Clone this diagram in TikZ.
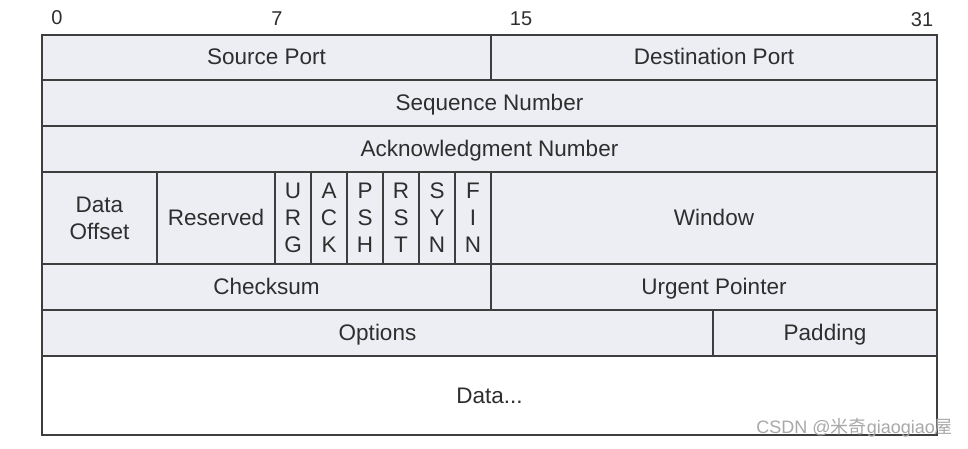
\documentclass[tikz,border=0pt]{standalone}
\usepackage{fontspec}
\setmainfont{Liberation Sans}
\newfontfamily\cjkfont{Noto Sans CJK SC}
\definecolor{cellfill}{HTML}{ECEEF4}
\definecolor{cellline}{HTML}{3E3E3E}
\definecolor{celltext}{HTML}{2E2E2E}
\definecolor{wmark}{HTML}{A8A8A8}
\newcommand{\tcpcell}[7][cellfill]{%
  \pgfmathsetmacro{\cw}{#5-#3}\pgfmathsetmacro{\ch}{#6-#4}%
  \node[cellbox, oneline, fill=#1, anchor=north west, minimum width=\cw pt, minimum height=\ch pt] (#2) at (#3,#4) {#7};}
\newcommand{\tcpmulti}[6]{%
  \pgfmathsetmacro{\cw}{#4-#2}\pgfmathsetmacro{\ch}{#5-#3}%
  \node[cellbox, fill=cellfill, anchor=north west, minimum width=\cw pt, minimum height=\ch pt] (#1) at (#2,#3) {#6};}
\begin{document}
\begin{tikzpicture}[x=1pt,y=-1pt,
  cellbox/.style={draw=cellline, line width=1.6pt, rectangle, inner sep=0pt, outer sep=0pt,
    text=celltext, font=\fontsize{22.5}{27}\selectfont, align=center},
  oneline/.style={text height=18pt, text depth=3pt},
  bitnum/.style={text=celltext, font=\fontsize{20}{22}\selectfont, inner sep=0pt}]
\useasboundingbox (0,0) rectangle (968,449);
% bit numbers
\node[bitnum] (b0) at (57,18) {0};
\node[bitnum] (b7) at (277,19) {7};
\node[bitnum] (b15) at (521,19) {15};
\node[bitnum] (b31) at (922,20) {31};
% row 1
\tcpcell{src}{42}{35}{491}{80}{Source Port}
\tcpcell{dst}{491}{35}{937}{80}{Destination Port}
% row 2
\tcpcell{seq}{42}{80}{937}{126}{Sequence Number}
% row 3
\tcpcell{ack}{42}{126}{937}{172}{Acknowledgment Number}
% row 4
\tcpmulti{doff}{42}{172}{157}{264}{Data\\Offset}
\tcpcell{res}{157}{172}{275}{264}{Reserved}
\tcpmulti{urg}{275}{172}{311}{264}{U\\R\\G}
\tcpmulti{ackf}{311}{172}{347}{264}{A\\C\\K}
\tcpmulti{psh}{347}{172}{383}{264}{P\\S\\H}
\tcpmulti{rst}{383}{172}{419}{264}{R\\S\\T}
\tcpmulti{syn}{419}{172}{455}{264}{S\\Y\\N}
\tcpmulti{fin}{455}{172}{491}{264}{F\\I\\N}
\tcpcell{win}{491}{172}{937}{264}{Window}
% row 5
\tcpcell{chk}{42}{264}{491}{310}{Checksum}
\tcpcell{urp}{491}{264}{937}{310}{Urgent Pointer}
% row 6
\tcpcell{opt}{42}{310}{713}{356}{Options}
\tcpcell{pad}{713}{310}{937}{356}{Padding}
% row 7
\tcpcell[white]{data}{42}{356}{937}{435}{Data...}
% watermark
\node[text=wmark, font=\fontsize{18}{20}\selectfont, inner sep=0pt, anchor=east] (wm) at (953,428) {CSDN @{\cjkfont 米奇}giaogiao{\cjkfont 屋}};
\end{tikzpicture}
\end{document}
